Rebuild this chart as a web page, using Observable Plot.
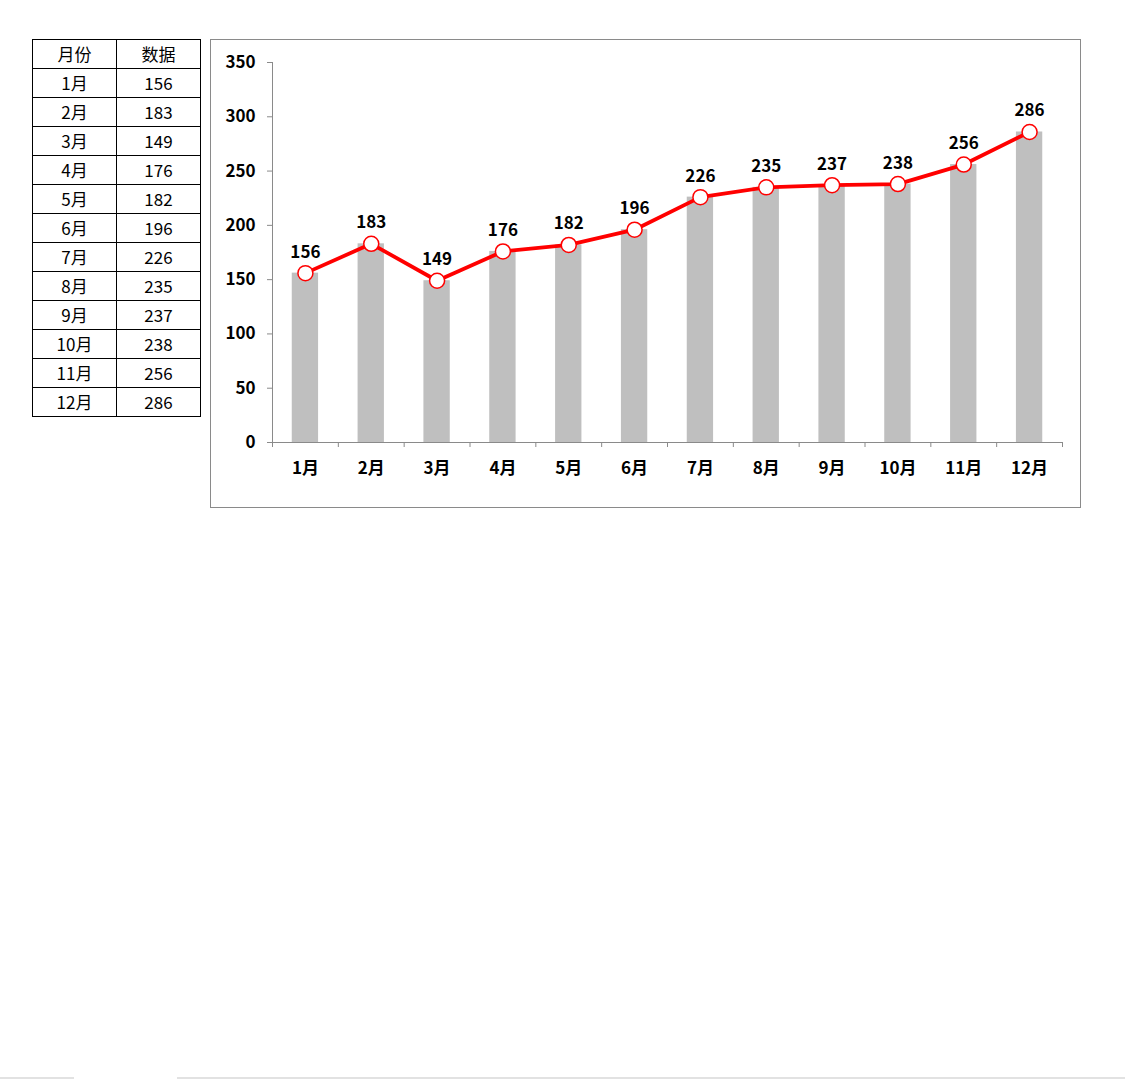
<!DOCTYPE html>
<html>
<head>
<meta charset="utf-8">
<script src="https://cdn.jsdelivr.net/npm/d3@7"></script>
<script src="https://cdn.jsdelivr.net/npm/@observablehq/plot@0.6"></script>
<style>
  html, body { margin: 0; padding: 0; background: #fff; }
  body { width: 1125px; height: 1079px; position: relative; overflow: hidden; font-family: "Noto Sans CJK SC", "Noto Sans", sans-serif; }
  #tbl { position: absolute; left: 32px; top: 39px; border-collapse: collapse; }
  #tbl td { border: 1px solid #000; width: 83px; height: 28px; padding: 0; text-align: center; font-size: 17px; line-height: 28px; color: #000; }
  #chart { position: absolute; left: 210px; top: 39px; width: 869px; height: 467px; border: 1px solid #8a8a8a; }
  .sb { position: absolute; top: 1077px; height: 2px; background: #e2e2e2; }
</style>
</head>
<body>
<table id="tbl"></table>
<div id="chart"></div>
<div class="sb" style="left:0;width:74px"></div>
<div class="sb" style="left:177px;width:948px"></div>
<script>
const headers = ["月份", "数据"];
const months = ["1月","2月","3月","4月","5月","6月","7月","8月","9月","10月","11月","12月"];
const values = [156, 183, 149, 176, 182, 196, 226, 235, 237, 238, 256, 286];
const yTicks = [0, 50, 100, 150, 200, 250, 300, 350];

// table
const tbl = d3.select("#tbl");
tbl.append("tr").selectAll("td").data(headers).join("td").text(d => d);
months.forEach((m, i) => {
  const tr = tbl.append("tr");
  tr.append("td").text(m);
  tr.append("td").text(values[i]);
});

const data = months.map((m, i) => ({month: m, value: values[i]}));

const W = 869, H = 467;
const mL = 61, mR = 18, mT = 22, mB = 65;
const step = (W - mL - mR) / months.length;
const pxPerUnit = (H - mT - mB) / 350;
const tickLen = 5 / pxPerUnit;
const axisColor = "#8a8a8a";

const chart = Plot.plot({
  width: W,
  height: H,
  marginLeft: mL,
  marginRight: mR,
  marginTop: mT,
  marginBottom: mB,
  style: {fontFamily: "'Noto Sans CJK SC', sans-serif", background: "#fff"},
  x: {domain: months, paddingInner: 0.6, paddingOuter: 0.3, round: false, label: null},
  y: {domain: [0, 350], label: null},
  marks: [
    Plot.barY(data, {x: "month", y: "value", fill: "#bfbfbf"}),
    // y axis
    Plot.frame({anchor: "left", stroke: axisColor}),
    Plot.axisY({ticks: yTicks, tickSize: 5, tickPadding: 12, stroke: axisColor, fill: "#000", fontSize: 17, fontWeight: "bold", label: null}),
    // x axis
    Plot.ruleY([0], {stroke: axisColor}),
    Plot.axisX({tickSize: 0, tickPadding: 19, fill: "#000", fontSize: 17, fontWeight: "bold", label: null}),
    Plot.ruleX(months, {x: d => d, dx: -step / 2, y1: 0, y2: -tickLen, stroke: axisColor}),
    Plot.ruleX([months[months.length - 1]], {x: d => d, dx: step / 2, y1: 0, y2: -tickLen, stroke: axisColor}),
    // line
    Plot.line(data, {x: "month", y: "value", stroke: "#ff0000", strokeWidth: 3.8}),
    Plot.dot(data, {x: "month", y: "value", r: 7.5, fill: "#fff", stroke: "#ff0000", strokeWidth: 1.5}),
    Plot.text(data, {x: "month", y: "value", text: d => String(d.value), dy: -21, fill: "#000", fontSize: 17, fontWeight: "bold"})
  ]
});
document.getElementById("chart").appendChild(chart);
</script>
</body>
</html>
